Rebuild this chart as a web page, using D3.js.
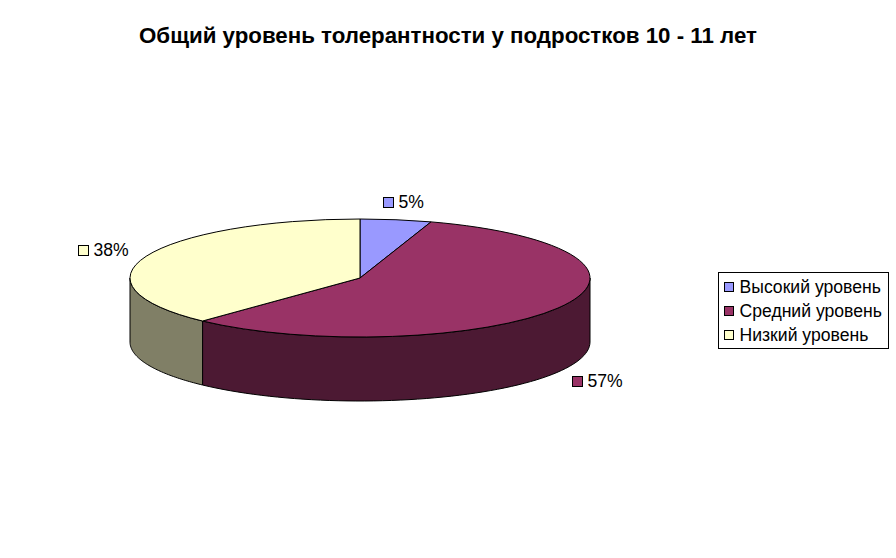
<!DOCTYPE html>
<html>
<head>
<meta charset="utf-8">
<script src="https://cdn.jsdelivr.net/npm/d3@7"></script>
<style>
  body { margin: 0; background: #fff; }
  svg { font-family: "Liberation Sans", Arial, sans-serif; }
</style>
</head>
<body>
<div id="chart"></div>
<script>
// DATA
var categories = ["Высокий уровень", "Средний уровень", "Низкий уровень"];
var values = [5, 57, 38];
var labels = ["5%", "57%", "38%"];
var topColors = ["#9999ff", "#993366", "#ffffcc"];
var sideColors = ["#4c4c80", "#4c1933", "#807f66"];

var width = 896, height = 558;
var cx = 360, cy = 278;     // centre of the top ellipse
var rx = 230, ry = 59;      // ellipse radii
var depth = 64;             // thickness of the pie

var svg = d3.select("#chart")
    .append("svg")
        .attr("width", width)
        .attr("height", height);

// Title
svg.append("text")
    .attr("x", 448)
    .attr("y", 43)
    .attr("text-anchor", "middle")
    .style("font-size", "22.3px")
    .style("font-weight", "bold")
    .text("Общий уровень толерантности у подростков 10 - 11 лет");

// Pie angles
var pie = d3.pie().sort(null).value(d => d);
var slices = pie(values);

// projection of an angle onto the ellipse
var px = a => cx + rx * Math.sin(a);
var py = a => cy - ry * Math.cos(a);

var line = d3.line().x(d => d[0]).y(d => d[1]);

// Side walls (front half only: PI/2 .. 3PI/2)
slices.forEach(function(s, i) {
    var a0 = Math.max(s.startAngle, Math.PI / 2);
    var a1 = Math.min(s.endAngle, Math.PI * 1.5);
    if (a1 <= a0) return;
    var n = 60;
    var topPts = d3.range(n + 1).map(k => {
        var a = a0 + (a1 - a0) * k / n;
        return [px(a), py(a)];
    });
    var botPts = topPts.slice().reverse().map(p => [p[0], p[1] + depth]);
    svg.append("path")
        .attr("d", line(topPts.concat(botPts)) + "Z")
        .attr("fill", sideColors[i])
        .attr("stroke", "#000")
        .attr("stroke-width", 1)
        .attr("stroke-linejoin", "round");
});

// Top faces
var arc = d3.arc().innerRadius(0).outerRadius(rx);
svg.append("g")
    .attr("transform", "translate(" + cx + "," + cy + ") scale(1," + (ry / rx) + ")")
    .selectAll("path")
    .data(slices)
    .enter()
    .append("path")
        .attr("d", arc)
        .attr("fill", (d, i) => topColors[i])
        .attr("stroke", "#000")
        .attr("stroke-width", 1)
        .attr("vector-effect", "non-scaling-stroke");

// Data labels
var labelSize = 17.6;
slices.forEach(function(s, i) {
    var mid = (s.startAngle + s.endAngle) / 2;
    var lx = cx + rx * 1.2 * Math.sin(mid);
    var ly = cy - ry * 1.3 * Math.cos(mid) + (Math.cos(mid) < 0 ? depth : 0);
    var g = svg.append("g");
    g.append("rect")
        .attr("width", 10).attr("height", 10)
        .attr("fill", topColors[i])
        .attr("stroke", "#000")
        .attr("stroke-width", 1);
    var t = g.append("text")
        .attr("x", 15)
        .attr("y", 10.5)
        .style("font-size", labelSize + "px")
        .text(labels[i]);
    var w = 15 + t.node().getComputedTextLength();
    g.attr("transform", "translate(" + Math.round(lx - w / 2) + ".5," + Math.round(ly - 5) + ".5)");
});

// Legend
var legend = svg.append("g").attr("transform", "translate(718.5,272.5)");
legend.append("rect")
    .attr("width", 170)
    .attr("height", 76)
    .attr("fill", "#fff")
    .attr("stroke", "#000")
    .attr("stroke-width", 1);
categories.forEach(function(c, i) {
    var row = legend.append("g").attr("transform", "translate(6," + (10 + i * 24) + ")");
    row.append("rect")
        .attr("width", 9).attr("height", 9)
        .attr("fill", topColors[i])
        .attr("stroke", "#000")
        .attr("stroke-width", 1);
    row.append("text")
        .attr("x", 15)
        .attr("y", 10.5)
        .style("font-size", labelSize + "px")
        .text(c);
});
</script>
</body>
</html>
